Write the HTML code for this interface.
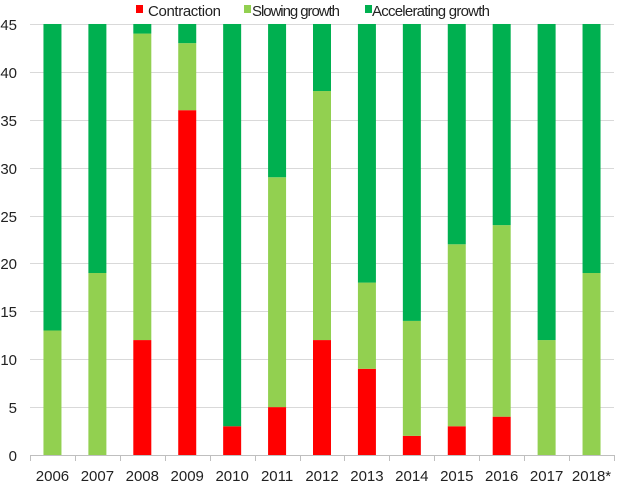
<!DOCTYPE html>
<html><head><meta charset="utf-8"><style>
html,body{margin:0;padding:0;background:#fff;}
svg text{font-family:"Liberation Sans",sans-serif;fill:#222;}
</style></head><body>
<svg width="622" height="486" viewBox="0 0 622 486" xmlns="http://www.w3.org/2000/svg">
<g stroke="#d9d9d9" stroke-width="1">
<line x1="30" x2="614" y1="24.5" y2="24.5"/>
<line x1="30" x2="614" y1="72.5" y2="72.5"/>
<line x1="30" x2="614" y1="120.5" y2="120.5"/>
<line x1="30" x2="614" y1="168.5" y2="168.5"/>
<line x1="30" x2="614" y1="216.5" y2="216.5"/>
<line x1="30" x2="614" y1="263.5" y2="263.5"/>
<line x1="30" x2="614" y1="311.5" y2="311.5"/>
<line x1="30" x2="614" y1="359.5" y2="359.5"/>
<line x1="30" x2="614" y1="407.5" y2="407.5"/>
</g>
<g font-size="15" text-anchor="end">
<text x="17" y="30">45</text><text x="17" y="78">40</text><text x="17" y="126">35</text>
<text x="17" y="174">30</text><text x="17" y="222">25</text><text x="17" y="269">20</text>
<text x="17" y="317">15</text><text x="17" y="365">10</text><text x="17" y="413">5</text>
<text x="17" y="461">0</text>
</g>
<g id="bars"></g>
<g stroke="#bfbfbf" stroke-width="1" id="ax">
<line x1="30" x2="614" y1="455.5" y2="455.5"/>
</g>
<g id="xl" font-size="15" text-anchor="middle"></g>
<g font-size="15">
<rect x="136" y="5" width="7" height="8" fill="#ff0000"/><text x="148" y="16" textLength="73">Contraction</text>
<rect x="244" y="5" width="7" height="8" fill="#92d050"/><text x="252" y="16" textLength="88">Slowing growth</text>
<rect x="365" y="5" width="7" height="8" fill="#00b050"/><text x="372" y="16" textLength="118">Accelerating growth</text>
</g>
<script>
var d=[["2006",0,13],["2007",0,19],["2008",12,32],["2009",36,7],["2010",3,0],["2011",5,24],["2012",12,26],["2013",9,9],["2014",2,12],["2015",3,19],["2016",4,20],["2017",0,12],["2018*",0,19]];
var ns="http://www.w3.org/2000/svg",s=9.578,b=document.getElementById("bars"),ax=document.getElementById("ax"),xl=document.getElementById("xl");
function r(x,v0,v1,c){if(v1<=v0)return;var e=document.createElementNS(ns,"rect");var y0=455-v1*s,y1=455-v0*s;e.setAttribute("x",x);e.setAttribute("y",y0);e.setAttribute("width",18);e.setAttribute("height",y1-y0);e.setAttribute("fill",c);b.appendChild(e);}
var w=584/13;
d.forEach(function(t,i){var cx=30+w*(i+0.5),x=cx-9;r(x,0,t[1],"#ff0000");r(x,t[1],t[1]+t[2],"#92d050");r(x,t[1]+t[2],45,"#00b050");
var l=document.createElementNS(ns,"line");var tx=Math.round(30+w*i)+0.5;l.setAttribute("x1",tx);l.setAttribute("x2",tx);l.setAttribute("y1",455);l.setAttribute("y2",461);ax.appendChild(l);
var tt=document.createElementNS(ns,"text");tt.setAttribute("x",cx);tt.setAttribute("y",481);tt.textContent=t[0];xl.appendChild(tt);});
var l=document.createElementNS(ns,"line");l.setAttribute("x1",614.5);l.setAttribute("x2",614.5);l.setAttribute("y1",455);l.setAttribute("y2",461);ax.appendChild(l);
</script>
</svg>
</body></html>
